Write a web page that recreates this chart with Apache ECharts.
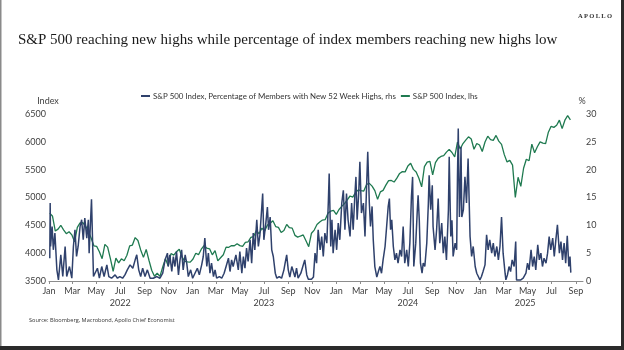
<!DOCTYPE html>
<html><head><meta charset="utf-8">
<script src="https://cdn.jsdelivr.net/npm/echarts@6/dist/echarts.min.js"></script>
<style>html,body{margin:0;padding:0;background:#fff}#c{width:624px;height:350px}</style>
</head><body><div id="c"></div>
<script>
// ---- text ----
const titleText = 'S&P 500 reaching new highs while percentage of index members reaching new highs low';
const sourceText = 'Source: Bloomberg, Macrobond, Apollo Chief Economist';
const brandText = 'A\u2009P\u2009O\u2009L\u2009L\u2009O';
const blueName = 'S&P 500 Index, Percentage of Members with New 52 Week Highs, rhs';
const greenName = 'S&P 500 Index, lhs';
const monthNames = ['Jan','Feb','Mar','Apr','May','Jun','Jul','Aug','Sep','Oct','Nov','Dec'];
const yearLabels = ['2022','2023','2024','2025'];
const yearLabelDates = ['2022-07-01','2023-07-01','2024-07-01','2025-04-25'];
const leftAxis = {name:'Index', min:3500, max:6500, interval:500};
const rightAxis = {name:'%', min:0, max:30, interval:5};
const axisStart = '2022-01-01';
const axisEnd = '2025-09-19';

// ---- % of members with new 52-week highs (rhs) ----
// observation day, counted in days from axisStart
const highsDay = [
 2,3,4,8,11,15,20,24,30,35,41,45,52,58,62,66,70,74,79,83,87,91,96,100,102,108,113,117,123,128,
 134,140,147,152,159,168,174,180,187,193,199,206,213,219,223,228,233,238,244,250,257,265,274,282,289,295,301,
 303,307,312,316,320,324,329,333,337,341,346,350,354,360,365,371,377,382,388,392,396,401,405,409,413,418,422,426,433,439,
 445,450,456,460,464,468,475,481,485,490,494,498,502,506,511,515,519,523,528,532,536,543,546,551,555,558,562,566,570,575,
 579,585,591,597,
 600,604,608,612,617,621,625,629,633,640,645,650,655,659,667,672,676,680,684,689,693,697,701,706,710,712,716,719,722,727,
 731,735,739,744,748,752,756,760,765,769,773,777,780,783,787,790,794,799,803,807,810,814,817,821,824,828,833,837,841,845,
 849,854,858,862,865,868,871,875,879,883,887,892,
 896,900,904,909,913,917,921,924,927,932,936,938,941,944,948,951,955,960,964,966,970,974,976,981,985,989,993,998,1002,1006,
 1010,1015,1017,1021,1024,1027,1032,1036,1038,1040,1043,1045,1047,1049,1053,1057,1061,1065,1070,1074,1078,1083,1087,1091,
 1095,1099,1103,1108,1112,1116,1120,1125,1129,1133,1138,1142,1146,1150,1154,1159,1161,1165,1169,1173,1177,1182,1186,1188,1192,
 1199,1205,1212,1216,1220,1225,1229,1233,1237,1242,1246,1250,1254,1258,1263,1267,1271,1275,1280,1284,1288,1292,1297,1301,1305,
 1309,1313,1317,1321,1324,1326
];
const pctNewHighs = [
 4.1,14.0,6.2,9.8,5.6,8.6,2.0,0.2,4.7,0.8,6.2,0.8,2.6,0.5,6.2,9.2,4.4,6.2,9.8,11,7.4,11.3,7.7,11,5.0,14.7,0.8,0.5,2.3,0.5,
 2.6,0.8,2.9,0.8,0.5,1.1,0.5,0.8,0.5,1.1,2.0,2.9,2.3,3.8,4.7,2.0,0.8,2.3,0.8,2.0,0.5,0.5,0.8,0.5,1.4,3.8,5.0,
 2.6,4.7,1.7,4.4,2.6,5.3,1.1,3.8,5.6,2.0,4.7,3.2,0.8,2.0,0.5,1.4,2.3,1.1,2.9,4.4,7.7,2.6,5.0,1.4,3.2,0.8,2.0,0.5,0.8,0.5,
 1.4,2.6,4.1,1.7,3.8,2.6,4.7,2.0,5.3,1.4,4.4,2.3,5.9,3.5,7.4,3.2,8.6,5.6,11,6.2,8.3,15.7,7.4,10.4,13.3,9.2,11.5,5.6,4.4,1.4,
 0.5,0.8,0.5,2.0,
 3.2,4.7,2.0,0.7,2.6,1.7,0.7,2.3,0.5,1.4,2.6,3.8,1.1,0.3,0.3,0.7,5.0,3.2,9.2,5.6,8.0,4.4,8.6,6.8,14.5,19.3,6.2,11,5.0,9.2,
 5.6,10.4,7.4,14,16.3,9.2,15.7,11,8,14,9.2,15.1,18.7,11,15.7,21.4,12.2,14,8,16.9,23.2,14,9.8,13.4,7.4,2.6,0.7,1.7,2.6,1.4,
 3.8,6.2,9.8,13.4,14.8,9.2,11,6.2,3.8,5.0,3.2,5.6,
 4.4,9.8,3.2,5.6,2.6,6.8,15.1,18.7,2.6,6.8,12.8,15.4,10.9,3.2,1.4,3.2,2.6,6.8,13.9,19.0,12.8,17.2,9.8,5.6,9.2,14.8,6.8,10.4,5.0,8.0,
 3.8,12.8,22.3,8.0,10.9,4.4,6.8,5.6,18.7,27.4,11.5,15.8,24.1,11.5,12.8,18.7,14,22,8,4.4,6.2,2.6,1.4,0.8,
 0.2,0.8,1.7,2.9,8.3,5.6,7.4,5.0,6.8,4.4,6.2,3.8,6.2,11.5,5.0,1.4,0.2,1.1,2.6,1.7,3.8,2.6,7.1,0.2,0.1,
 0.2,0.5,1.4,3.2,2.0,5.6,2.6,4.4,2.0,6.5,3.8,5.0,2.6,4.1,3.2,5.0,8.0,5.6,7.7,4.4,7.4,10.1,5.0,7.1,3.8,
 6.8,3.2,8.1,2.6,4.4,1.5
];

// ---- S&P 500 index level (lhs), weekly from firstWeek ----
const firstWeek = '2022-01-03';
const spxIndex = [
 4720,4663,4398,4432,4501,4419,4349,4385,4329,4204,
 4463,4543,4546,4488,4393,4272,4132,4123,4024,3901,
 4158,4109,3901,3675,3912,3825,3899,3863,3962,4130,
 4145,4280,4228,4058,3924,4067,3873,3693,3586,3640,
 3583,3753,3901,3771,3993,3965,4026,4072,3934,3852,
 3845,3840,
 3895,3999,3973,4071,4136,4090,4079,3970,4045,3862,
 3917,3971,4109,4105,4137,4133,4169,4136,4124,4192,
 4205,4282,4299,4409,4348,4450,4399,4505,4536,4582,
 4478,4464,4370,4406,4516,4457,4450,4320,4288,4308,
 4327,4224,4117,4358,4415,4514,4559,4595,4604,4719,
 4755,4770,
 4697,4784,4840,4891,4959,5027,5006,5089,5137,5124,
 5117,5234,5254,5204,5123,4967,5100,5128,5223,5303,
 5305,5278,5347,5432,5465,5460,5567,5615,5505,5459,
 5347,5190,5554,5634,5648,5408,5626,5703,5738,5751,
 5815,5865,5808,5729,5995,5870,5969,6032,6090,6051,
 5867,5971,
 5942,5827,5997,6101,6041,6026,6115,6013,5955,5770,
 5639,5668,5581,5000,5363,5200,5525,5687,5660,5958,
 5803,5912,6000,5977,5968,6173,6279,6260,6297,6389,
 6238,6389,6470,6395
];

// ---- helpers ----
const DAY = 864e5;
function utc(s){const p=s.split('-').map(Number);return Date.UTC(p[0],p[1]-1,p[2]);}
const t0 = utc(axisStart);
const dayOf = s => (utc(s)-t0)/DAY;
const w0 = dayOf(firstWeek);
const endDay = dayOf(axisEnd);
const monthTicks = [];
for (let y=2022;y<=2025;y++) for (let m=0;m<12;m+=2){
  const d=(Date.UTC(y,m,1)-t0)/DAY; if (d<=endDay) monthTicks.push(d);
}
const yearDays = yearLabelDates.map(dayOf);
const blueData = highsDay.map((d,i)=>[d, pctNewHighs[i]]);
const greenData = spxIndex.map((v,i)=>[w0+7*i, v]);

const labelFont = 'Lato';
const labelColor = '#404040';
const chart = echarts.init(document.getElementById('c'), null, {renderer:'canvas'});
chart.setOption({
  animation:false,
  backgroundColor:'#ffffff',
  grid:{left:49,right:41,top:114,bottom:69},
  legend:{
    top:87, left:136, itemWidth:9, itemHeight:2, itemGap:5, icon:'rect',
    data:[blueName, greenName],
    textStyle:{fontFamily:labelFont, fontSize:7.9, color:'#333', padding:[0,0,0,-2]}
  },
  xAxis:[{
    type:'value', min:0, max:endDay,
    axisLine:{show:true, lineStyle:{color:'#8c8c8c', width:1}},
    axisTick:{show:true, customValues:monthTicks, length:3, lineStyle:{color:'#8c8c8c'}},
    axisLabel:{customValues:monthTicks, margin:6, color:labelColor, fontFamily:labelFont, fontSize:9,
      formatter:v=>monthNames[new Date(t0+Math.round(v)*DAY).getUTCMonth()]},
    splitLine:{show:false}
  },{
    type:'value', min:0, max:endDay, position:'bottom', offset:12,
    axisLine:{show:false}, axisTick:{show:false}, splitLine:{show:false},
    axisLabel:{customValues:yearDays, margin:6, color:labelColor, fontFamily:labelFont, fontSize:9,
      formatter:v=>{const i=yearDays.findIndex(d=>Math.abs(d-v)<0.5);return i>=0?yearLabels[i]:'';}}
  }],
  yAxis:[{
    type:'value', position:'left', min:leftAxis.min, max:leftAxis.max, interval:leftAxis.interval,
    axisLine:{show:false}, axisTick:{show:false}, splitLine:{show:false},
    axisLabel:{margin:3, color:labelColor, fontFamily:labelFont, fontSize:9, formatter:v=>String(v)}
  },{
    type:'value', position:'right', min:rightAxis.min, max:rightAxis.max, interval:rightAxis.interval,
    axisLine:{show:false}, axisTick:{show:false}, splitLine:{show:false},
    axisLabel:{margin:3, color:labelColor, fontFamily:labelFont, fontSize:9, formatter:v=>String(v)}
  }],
  series:[{
    name:greenName, type:'line', yAxisIndex:0, data:greenData, showSymbol:false, z:2,
    lineStyle:{color:'#1f7a50', width:1.3}, itemStyle:{color:'#1f7a50'}
  },{
    name:blueName, type:'line', yAxisIndex:1, data:blueData, showSymbol:false, z:3,
    lineStyle:{color:'#2f416c', width:1.5}, itemStyle:{color:'#2f416c'}
  }],
  graphic:[
    {type:'text', left:18, top:33, style:{text:titleText, font:'15px "Liberation Serif"', fill:'#1a1a1a'}},
    {type:'text', right:12, top:13, style:{text:brandText, font:'bold 6.5px "Liberation Serif"', fill:'#333'}},
    {type:'text', left:29, top:317, style:{text:sourceText, font:'5.6px "Open Sans"', fill:'#333'}},
    {type:'text', x:48, y:101, style:{text:leftAxis.name, font:'9px Lato', fill:labelColor, align:'center', verticalAlign:'middle'}},
    {type:'text', x:582, y:101, style:{text:rightAxis.name, font:'9px Lato', fill:labelColor, align:'center', verticalAlign:'middle'}},
    {type:'rect', left:0, top:0, shape:{width:1.5, height:350}, style:{fill:'#8a8a8a'}},
    {type:'rect', left:621, top:0, shape:{width:3, height:350}, style:{fill:'#2b2b2b'}},
    {type:'rect', left:0, top:346, shape:{width:624, height:4}, style:{fill:'#2b2b2b'}}
  ]
});
</script></body></html>
